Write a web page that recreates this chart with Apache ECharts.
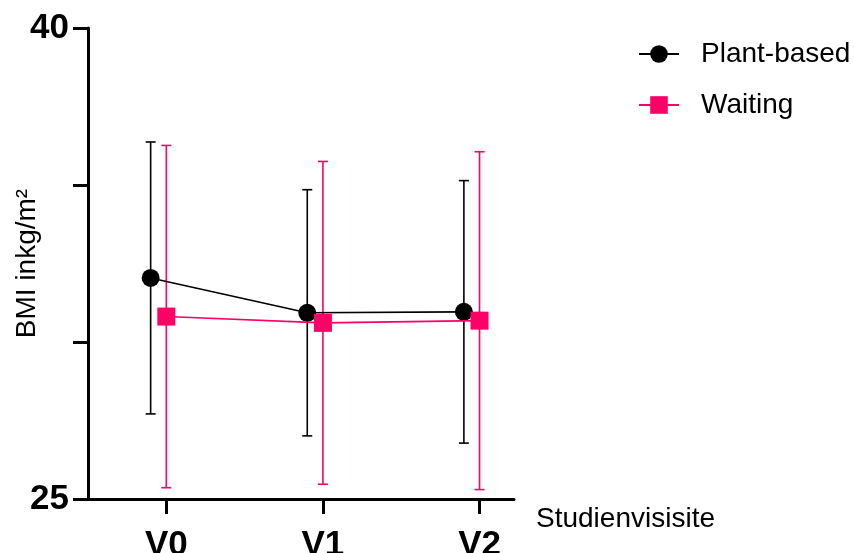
<!DOCTYPE html>
<html>
<head>
<meta charset="utf-8">
<style>
  html, body { margin: 0; padding: 0; background: #fff; }
  #chart { width: 854px; height: 553px; }
</style>
<script src="https://cdn.jsdelivr.net/npm/echarts@6/dist/echarts.min.js"></script>
</head>
<body>
<div id="chart"></div>
<script>
// Study visits and BMI (mean ± SD) for both groups
const visits = ['V0', 'V1', 'V2'];
const plantMean = [32.04, 30.93, 30.96];
const plantSD = [4.33, 3.92, 4.18];
const waitingMean = [30.81, 30.61, 30.68];
const waitingSD = [5.45, 5.14, 5.38];
const yTicks = [25, 30, 35, 40];
const yLabelsShown = [25, 40];

const BLACK = '#000000';
const PINK = '#ff0066';
const DODGE = 0.1; // horizontal shift of the first group, in visit units
const FONT = 'Liberation Sans, Arial, sans-serif';

const plantPoints = plantMean.map((m, i) => [i - DODGE, m]);
const waitingPoints = waitingMean.map((m, i) => [i, m]);
const plantBars = plantMean.map((m, i) => [i - DODGE, m - plantSD[i], m + plantSD[i]]);
const waitingBars = waitingMean.map((m, i) => [i, m - waitingSD[i], m + waitingSD[i]]);

function errorBarRenderer(color) {
  return function (params, api) {
    const x = api.value(0);
    const lo = api.coord([x, api.value(1)]);
    const hi = api.coord([x, api.value(2)]);
    const half = 5;
    const style = { stroke: color, lineWidth: 1.6 };
    return {
      type: 'group',
      children: [
        { type: 'line', shape: { x1: lo[0], y1: lo[1], x2: hi[0], y2: hi[1] }, style },
        { type: 'line', shape: { x1: hi[0] - half, y1: hi[1], x2: hi[0] + half, y2: hi[1] }, style },
        { type: 'line', shape: { x1: lo[0] - half, y1: lo[1], x2: lo[0] + half, y2: lo[1] }, style }
      ]
    };
  };
}

const chart = echarts.init(document.getElementById('chart'), null, { renderer: 'canvas' });

chart.setOption({
  animation: false,
  backgroundColor: '#ffffff',
  grid: { left: 88, right: 340, top: 28, bottom: 54, containLabel: false, outerBoundsMode: 'none' },
  legend: {
    orient: 'vertical',
    left: 638,
    top: 40,
    padding: 0,
    itemWidth: 40,
    itemHeight: 22,
    itemGap: 23,
    data: ['Plant-based', 'Waiting'],
    textStyle: { fontFamily: FONT, fontSize: 28, color: '#000', padding: [0, 0, 0, 17] }
  },
  xAxis: {
    type: 'value',
    min: -0.5,
    max: 2.22,
    name: 'Studienvisisite',
    nameLocation: 'end',
    nameGap: 22,
    nameMoveOverlap: false,
    nameTextStyle: { fontFamily: FONT, fontSize: 28, color: '#000', verticalAlign: 'top', padding: [6, 0, 0, 0] },
    splitLine: { show: false },
    axisLine: { show: true, onZero: false, lineStyle: { color: BLACK, width: 3 } },
    axisTick: { show: true, length: 15, lineStyle: { color: BLACK, width: 3 }, customValues: [0, 1, 2] },
    axisLabel: {
      customValues: [0, 1, 2],
      formatter: v => visits[Math.round(v)] || '',
      fontFamily: FONT, fontSize: 35, fontWeight: 'bold', color: '#000', margin: 29
    }
  },
  yAxis: {
    type: 'value',
    min: yTicks[0],
    max: yTicks[yTicks.length - 1],
    interval: 5,
    name: 'BMI inkg/m²',
    nameLocation: 'middle',
    nameGap: 47,
    nameRotate: 90,
    nameMoveOverlap: false,
    nameTextStyle: { fontFamily: FONT, fontSize: 28, color: '#000' },
    splitLine: { show: false },
    axisLine: { show: true, onZero: false, lineStyle: { color: BLACK, width: 3 } },
    axisTick: { show: true, length: 15, lineStyle: { color: BLACK, width: 3 } },
    axisLabel: {
      formatter: v => (yLabelsShown.indexOf(v) >= 0 ? String(v) : ''),
      fontFamily: FONT, fontSize: 35, fontWeight: 'bold', color: '#000', margin: 19,
      padding: [10, 0, 0, 0]
    }
  },
  series: [
    {
      type: 'custom',
      name: 'Plant-based SD',
      renderItem: errorBarRenderer(BLACK),
      data: plantBars,
      encode: { x: 0, y: [1, 2] },
      z: 1,
      silent: true
    },
    {
      type: 'custom',
      name: 'Waiting SD',
      renderItem: errorBarRenderer(PINK),
      data: waitingBars,
      encode: { x: 0, y: [1, 2] },
      z: 1,
      silent: true
    },
    {
      type: 'line',
      name: 'Plant-based',
      data: plantPoints,
      symbol: 'circle',
      symbolSize: 18,
      showSymbol: true,
      itemStyle: { color: BLACK },
      lineStyle: { color: BLACK, width: 1.6 },
      z: 3
    },
    {
      type: 'line',
      name: 'Waiting',
      data: waitingPoints,
      symbol: 'rect',
      symbolSize: 18,
      showSymbol: true,
      itemStyle: { color: PINK },
      lineStyle: { color: PINK, width: 1.6 },
      z: 4
    }
  ]
});
</script>
</body>
</html>
